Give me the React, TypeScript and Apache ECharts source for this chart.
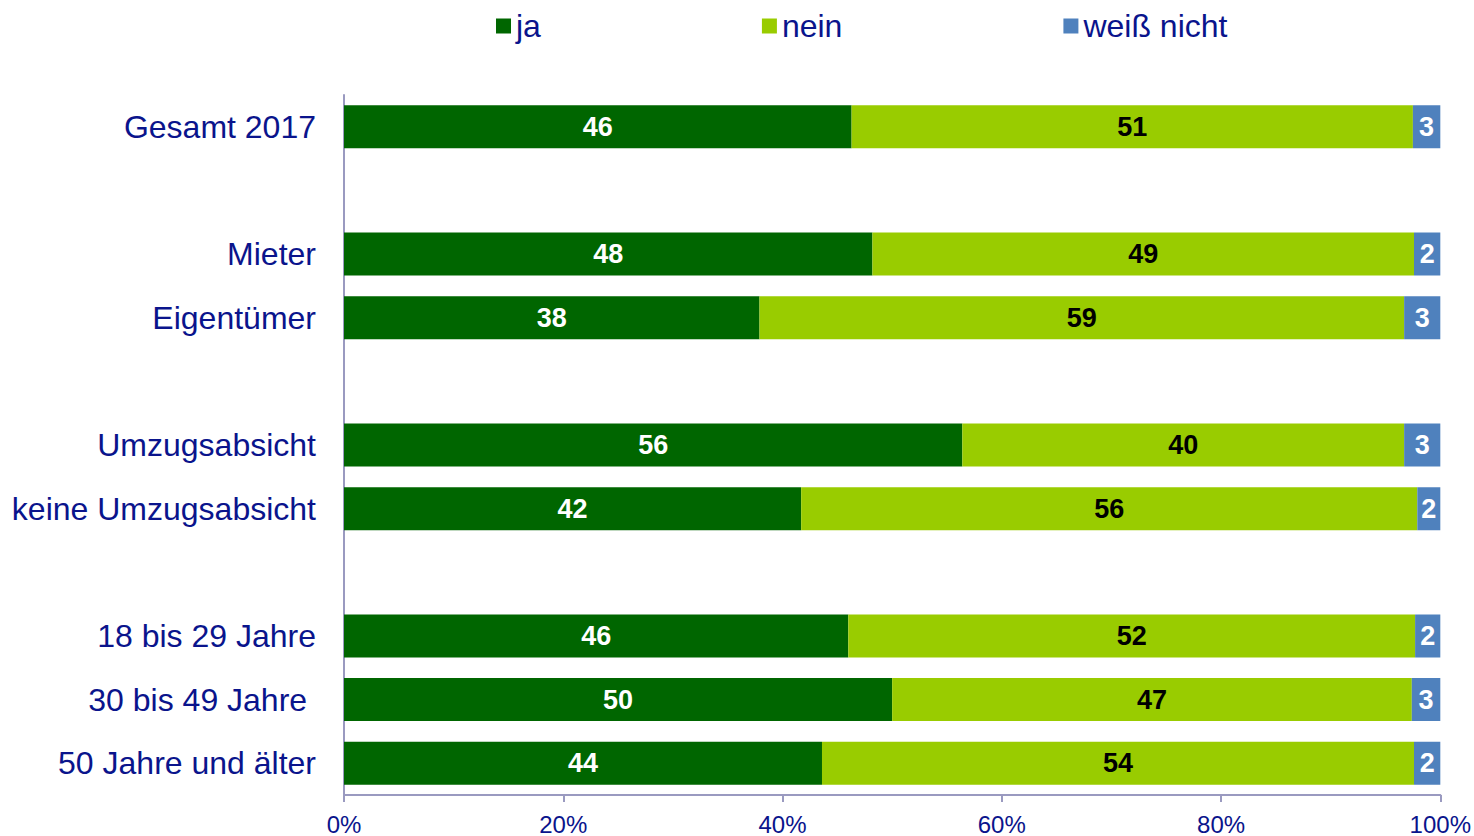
import React, { useEffect, useRef } from "react";
import * as echarts from "echarts";

const categories = [
  "Gesamt 2017",
  "",
  "Mieter",
  "Eigentümer",
  " ",
  "Umzugsabsicht",
  "keine Umzugsabsicht",
  "  ",
  "18 bis 29 Jahre",
  "30 bis 49 Jahre\u00a0",
  "50 Jahre und älter",
];

// shares in percent (unrounded); labels show rounded values
const ja: (number | null)[] = [46.3, null, 48.2, 37.9, null, 56.4, 41.7, null, 46.0, 50.0, 43.6];
const nein: (number | null)[] = [51.2, null, 49.4, 58.8, null, 40.3, 56.2, null, 51.7, 47.4, 54.0];
const weissNicht: (number | null)[] = [2.5, null, 2.4, 3.3, null, 3.3, 2.1, null, 2.3, 2.6, 2.4];

const xTicks = [0, 20, 40, 60, 80, 100];

const FONT = "'Liberation Sans', Arial, sans-serif";
const NAVY = "#0A148C";

export default function App() {
  const ref = useRef<HTMLDivElement>(null);
  useEffect(() => {
    document.body.style.margin = "0";
    if (!ref.current) return;
    const chart = echarts.init(ref.current, undefined, { renderer: "svg" });
    const labelFmt = (p: any) =>
      p.value != null && !isNaN(p.value) ? String(Math.round(p.value)) : "";
    const series = [
      { name: "ja", data: ja, color: "#006600", labelColor: "#FFFFFF" },
      { name: "nein", data: nein, color: "#99CC00", labelColor: "#000000" },
      { name: "weiß nicht", data: weissNicht, color: "#4F81BD", labelColor: "#FFFFFF" },
    ].map((s) => ({
      name: s.name,
      type: "bar",
      stack: "total",
      barWidth: 43,
      data: s.data,
      itemStyle: { color: s.color },
      label: {
        show: true,
        position: "inside",
        formatter: labelFmt,
        color: s.labelColor,
        fontFamily: FONT,
        fontWeight: "bold",
        fontSize: 27,
      },
    }));

    chart.setOption({
      animation: false,
      legend: {
        left: 491,
        top: 5,
        icon: "rect",
        itemWidth: 15,
        itemHeight: 15,
        itemGap: 221,
        textStyle: { fontFamily: FONT, fontSize: 32, color: NAVY },
        data: ["ja", "nein", "weiß nicht"],
      },
      grid: { left: 344, right: 33, top: 95, bottom: 37 },
      xAxis: {
        type: "value",
        min: xTicks[0],
        max: xTicks[xTicks.length - 1],
        interval: 20,
        axisLine: { show: true, lineStyle: { color: "#9A9AC0", width: 2 } },
        axisTick: { show: true, length: 7, lineStyle: { color: "#9A9AC0", width: 2 } },
        splitLine: { show: false },
        axisLabel: {
          formatter: "{value}%",
          fontFamily: FONT,
          fontSize: 24,
          color: NAVY,
          margin: 17,
        },
      },
      yAxis: {
        type: "category",
        inverse: true,
        data: categories,
        axisLine: { show: true, lineStyle: { color: "#9A9AC0", width: 2 } },
        axisTick: { show: false },
        axisLabel: {
          fontFamily: FONT,
          fontSize: 32,
          color: NAVY,
          margin: 28,
          interval: 0,
        },
      },
      series,
    });
    return () => chart.dispose();
  }, []);
  return <div ref={ref} style={{ width: 1474, height: 836 }} />;
}
